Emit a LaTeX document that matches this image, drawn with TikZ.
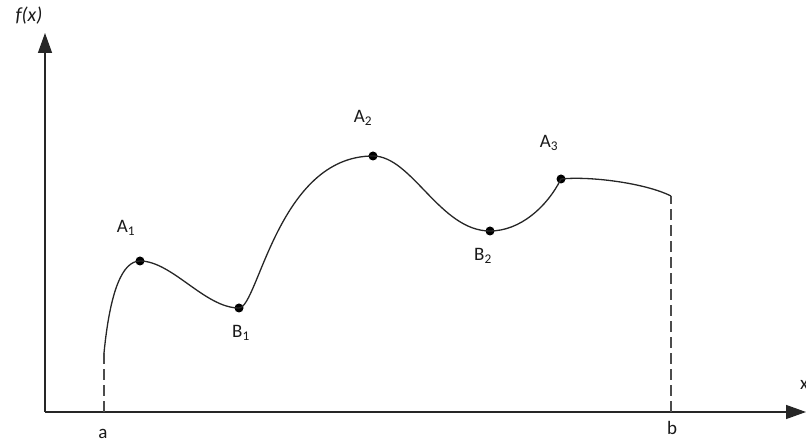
\documentclass[tikz,border=0pt]{standalone}
\usepackage{fontspec}
\setmainfont{Carlito}
\usetikzlibrary{arrows.meta}
\begin{document}
\begin{tikzpicture}[x=1pt,y=1pt,
  axis/.style={line width=1.4pt, draw=black!85, -{Triangle[length=20pt,width=14pt]}},
  guide/.style={line width=2.7pt, draw=black!70, dash pattern=on 11pt off 5pt},
  curve/.style={line width=1.3pt, draw=black!85},
  pt/.style={circle, fill=black, inner sep=0pt, minimum size=9pt},
  lab/.style={font=\fontsize{19}{19}\selectfont, text=black!90, inner sep=0pt}]
\useasboundingbox (0,0) rectangle (806,447);
% axes
\coordinate (O) at (45,35);
\coordinate (ytop) at (45,414);
\coordinate (xend) at (806,35);
\draw[axis] (O) -- (ytop);
\draw[axis] (O) -- (xend);
\node[lab, font=\fontsize{20}{20}\selectfont\itshape] (fx) at (29,431) {f(x)};
\node[lab, anchor=west] (xl) at (800,62) {x};
% curve points
\coordinate (S) at (104,94);
\node[pt] (A1) at (140,186) {};
\node[pt] (B1) at (239,139) {};
\node[pt] (A2) at (373,291) {};
\node[pt] (B2) at (490,216) {};
\node[pt] (A3) at (561,268) {};
\coordinate (E) at (671,251);
\coordinate (a0) at (104,35);
\coordinate (b0) at (671,35);
% guides
\draw[guide] (a0) -- (S);
\draw[guide] (b0) -- (E);
% curve
\draw[curve] (S) .. controls (110,155) and (122,186) .. (A1.center)
  .. controls (172,186) and (205,139) .. (B1.center)
  .. controls (258,139) and (278,291) .. (A2.center)
  .. controls (412,291) and (440,216) .. (B2.center)
  .. controls (520,216) and (547,240) .. (A3.center)
  .. controls (590,271) and (645,264) .. (E);
% labels
\node[lab] (lA1) at (126,219) {A\textsubscript{1}};
\node[lab] (lB1) at (241,114) {B\textsubscript{1}};
\node[lab] (lA2) at (363,329) {A\textsubscript{2}};
\node[lab] (lB2) at (483,191) {B\textsubscript{2}};
\node[lab] (lA3) at (549,304) {A\textsubscript{3}};
\node[lab] (la) at (103,13) {a};
\node[lab] (lb) at (672,19) {b};
\end{tikzpicture}
\end{document}
